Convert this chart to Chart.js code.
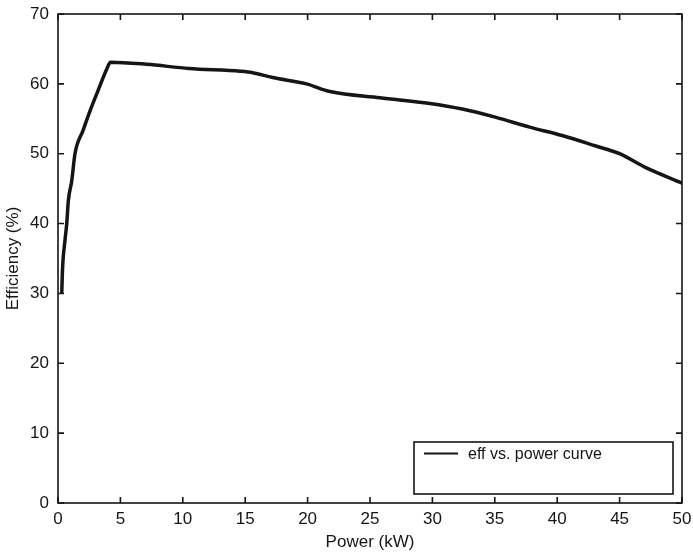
<!DOCTYPE html>
<html>
<head>
<meta charset="utf-8">
<script src="https://cdn.jsdelivr.net/npm/chart.js@4/dist/chart.umd.min.js"></script>
<style>
  html, body { margin: 0; padding: 0; background: #fff; }
  #wrap { width: 693px; height: 557px; }
</style>
</head>
<body>
<div id="wrap"><canvas id="chart" width="693" height="557"></canvas></div>
<script>
// values
const powerKW = [0.3, 0.37, 0.56, 0.7, 0.83, 1.1, 1.36, 2.0, 2.56, 3.2, 3.9, 4.2, 7.1, 10.5, 14.6, 15.6, 17.2, 19.9, 21.8, 25.8, 29.8, 32.4, 35.1, 37.8, 40.4, 43.1, 45, 47.1, 50];
const efficiency = [30, 33.8, 37.6, 40, 43.3, 46.1, 50, 53.3, 56.1, 59, 62.1, 63.1, 62.8, 62.2, 61.8, 61.6, 60.9, 60, 58.9, 58, 57.2, 56.4, 55.2, 53.8, 52.6, 51.1, 50, 48, 45.8];
const xTicks = [0, 5, 10, 15, 20, 25, 30, 35, 40, 45, 50];
const yTicks = [0, 10, 20, 30, 40, 50, 60, 70];
const seriesLabel = 'eff vs. power curve';

const FONT = 'Liberation Sans, Arial, Helvetica, sans-serif';
const INK = '#151515';

// matlab-like box with inward ticks on all four sides
const framePlugin = {
  id: 'frame',
  afterDraw(chart) {
    const { ctx, chartArea: a, scales } = chart;
    const tl = 6;
    ctx.save();
    ctx.strokeStyle = INK;
    ctx.lineWidth = 1.6;
    ctx.strokeRect(a.left, a.top, a.right - a.left, a.bottom - a.top);
    ctx.beginPath();
    xTicks.forEach((v) => {
      const px = scales.x.getPixelForValue(v);
      ctx.moveTo(px, a.bottom); ctx.lineTo(px, a.bottom - tl);
      ctx.moveTo(px, a.top); ctx.lineTo(px, a.top + tl);
    });
    yTicks.forEach((v) => {
      const py = scales.y.getPixelForValue(v);
      ctx.moveTo(a.left, py); ctx.lineTo(a.left + tl, py);
      ctx.moveTo(a.right, py); ctx.lineTo(a.right - tl, py);
    });
    ctx.stroke();

    // legend box, lower right
    const bx = 414, by = 442, bw = 259, bh = 52;
    ctx.fillStyle = '#fff';
    ctx.fillRect(bx, by, bw, bh);
    ctx.lineWidth = 1.6;
    ctx.strokeRect(bx, by, bw, bh);
    ctx.beginPath();
    ctx.lineWidth = 2;
    ctx.moveTo(424, 453.5); ctx.lineTo(458, 453.5);
    ctx.stroke();
    ctx.fillStyle = INK;
    ctx.font = '16px ' + FONT;
    ctx.textBaseline = 'middle';
    ctx.textAlign = 'left';
    ctx.fillText(seriesLabel, 468, 455);
    ctx.restore();
  }
};

new Chart(document.getElementById('chart').getContext('2d'), {
  type: 'line',
  data: {
    datasets: [
      {
        label: seriesLabel,
        data: powerKW.map((x, i) => ({ x, y: efficiency[i] })),
        borderColor: INK,
        borderWidth: 3.5,
        pointRadius: 0,
        cubicInterpolationMode: 'monotone',
        fill: false
      }
    ]
  },
  options: {
    responsive: false,
    animation: false,
    layout: { padding: { top: 14, right: 11, left: 0, bottom: 0 } },
    plugins: { legend: { display: false }, tooltip: { enabled: false } },
    scales: {
      x: {
        type: 'linear',
        min: 0,
        max: 50,
        afterBuildTicks: (s) => { s.ticks = xTicks.map((v) => ({ value: v })); },
        afterFit: (s) => { s.height = 54; s.paddingLeft = 0; s.paddingRight = 0; },
        grid: { display: false, drawTicks: false },
        border: { display: false },
        ticks: { color: INK, padding: 6, font: { family: FONT, size: 17 }, maxRotation: 0 },
        title: { display: true, text: 'Power (kW)', color: INK, font: { family: FONT, size: 17 }, padding: { top: 0, bottom: 4 } }
      },
      y: {
        min: 0,
        max: 70,
        afterBuildTicks: (s) => { s.ticks = yTicks.map((v) => ({ value: v })); },
        afterFit: (s) => { s.width = 58; s.paddingTop = 0; s.paddingBottom = 0; },
        grid: { display: false, drawTicks: false },
        border: { display: false },
        ticks: { color: INK, padding: 9, font: { family: FONT, size: 17 } },
        title: { display: true, text: 'Efficiency (%)', color: INK, font: { family: FONT, size: 17 }, padding: { top: 3, bottom: 0 } }
      }
    }
  },
  plugins: [framePlugin]
});
</script>
</body>
</html>
